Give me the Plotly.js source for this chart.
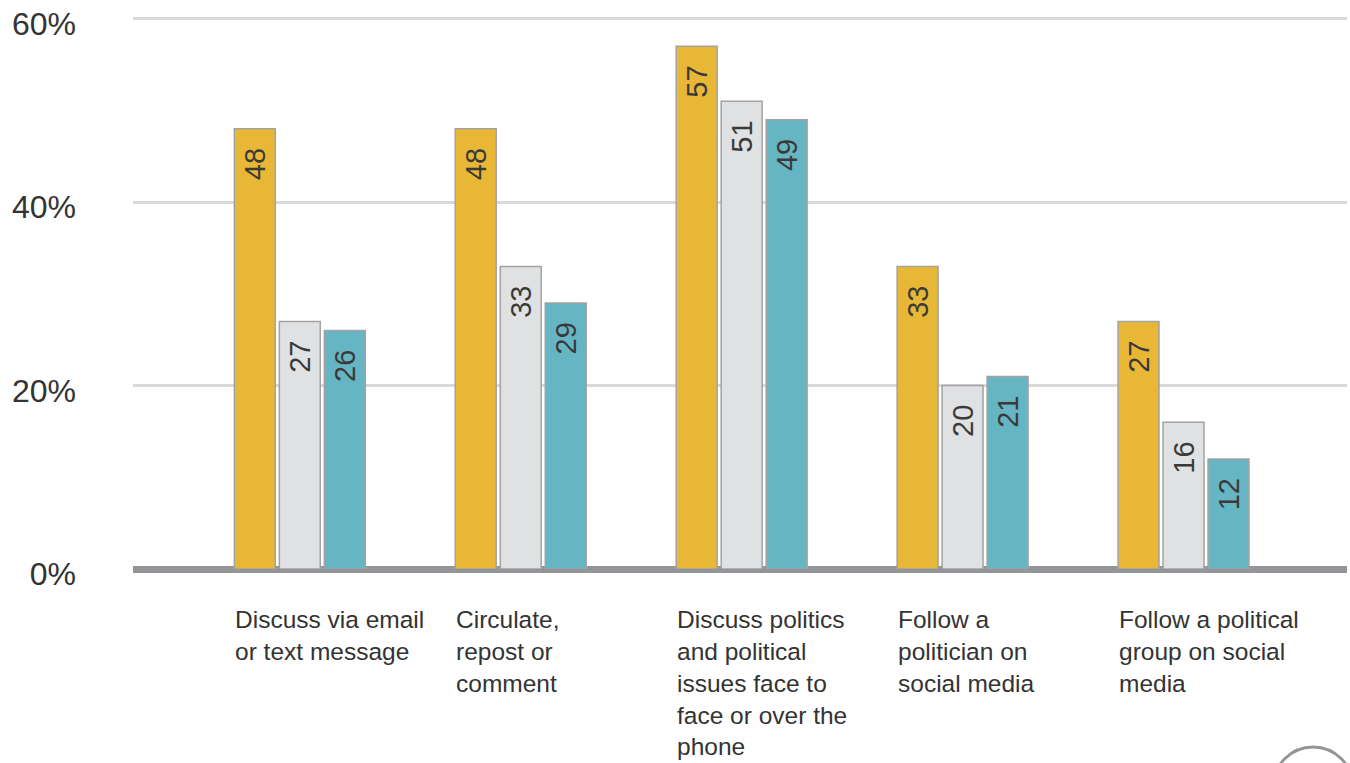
<!DOCTYPE html>
<html>
<head>
<meta charset="utf-8">
<script src="https://cdn.plot.ly/plotly-3.0.1.min.js"></script>
<style>html,body{margin:0;padding:0;background:#fff;}#chart{width:1350px;height:763px;}</style>
</head>
<body>
<div id="chart"></div>
<script>
const categories = [
  "Discuss via email<br>or text message",
  "Circulate,<br>repost or<br>comment",
  "Discuss politics<br>and political<br>issues face to<br>face or over the<br>phone",
  "Follow a<br>politician on<br>social media",
  "Follow a political<br>group on social<br>media"
];
const seriesA = [48, 48, 57, 33, 27];
const seriesB = [27, 33, 51, 20, 16];
const seriesC = [26, 29, 49, 21, 12];
const yTickVals = [0, 20, 40, 60];
const yTickText = ["0%", "20%", "40%", "60%"];

const xIdx = categories.map((_, i) => i);
const colors = ["#E8B735", "#E0E1E3", "#66B5C3"];
const names = ["Series A", "Series B", "Series C"];
const traces = [seriesA, seriesB, seriesC].map((vals, k) => ({
  type: "bar",
  x: xIdx,
  y: vals,
  name: names[k],
  marker: {color: colors[k], line: {color: "#A3A3A3", width: 1.5}},
  text: vals.map(v => v + "\u00a0\u00a0"),
  textposition: "inside",
  insidetextanchor: "end",
  textangle: -90,
  constraintext: "none",
  textfont: {family: "Liberation Sans, Arial, sans-serif", size: 29, color: "#3a3a3a"},
  hoverinfo: "skip"
}));

const annotations = categories.map((c, i) => ({
  x: i, xref: "x", y: 0, yref: "paper",
  xanchor: "left", yanchor: "top", align: "left",
  xshift: -67, yshift: -35,
  text: c, showarrow: false,
  font: {family: "Liberation Sans, Arial, sans-serif", size: 24.5, color: "#333333"}
}));

const layout = {
  width: 1350, height: 763,
  margin: {l: 133, r: 3, t: 17, b: 194},
  paper_bgcolor: "#ffffff", plot_bgcolor: "#ffffff",
  showlegend: false,
  barmode: "group",
  bargap: 0.389,
  bargroupgap: 0.09,
  xaxis: {type: "linear", range: [-0.755, 4.74], showticklabels: false, showgrid: false, zeroline: false, ticks: ""},
  yaxis: {
    range: [0, 60.2], tickvals: yTickVals, ticktext: yTickText,
    showgrid: true, gridcolor: "#D9D9DB", gridwidth: 3,
    zeroline: true, zerolinecolor: "#939598", zerolinewidth: 7,
    ticklabelstandoff: 56,
    ticklabelshift: 5,
    tickfont: {family: "Liberation Sans, Arial, sans-serif", size: 32, color: "#333333"}
  },
  annotations: annotations,
  shapes: [{
    type: "circle", xref: "paper", yref: "paper",
    x0: (1275 - 133) / 1216, x1: (1355 - 133) / 1216,
    y0: (569 - 827) / 552, y1: (569 - 747) / 552,
    line: {color: "#939598", width: 3}
  }]
};

Plotly.newPlot("chart", traces, layout, {displayModeBar: false, staticPlot: true});
</script>
</body>
</html>
